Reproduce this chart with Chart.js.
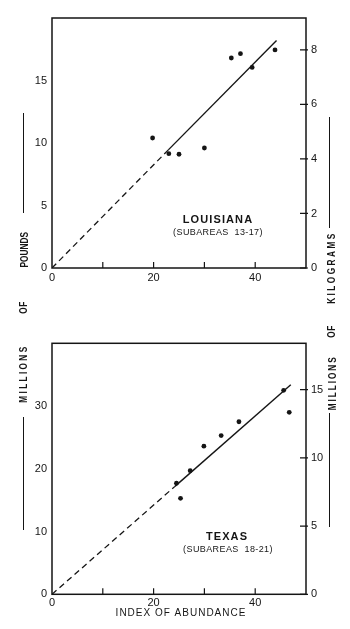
<!DOCTYPE html>
<html>
<head>
<meta charset="utf-8">
<script src="https://cdn.jsdelivr.net/npm/chart.js@4.4.1/dist/chart.umd.min.js"></script>
<style>
  html, body { margin: 0; padding: 0; background: #fff; }
  #page { position: relative; width: 350px; height: 629px; overflow: hidden; }
  canvas { position: absolute; left: 0; }
  .word { position: absolute; font: bold 11.5px "Liberation Sans", Arial, sans-serif; color: #151515; white-space: nowrap; line-height: 1; }
  .rule { position: absolute; width: 1.4px; background: #151515; }
</style>
</head>
<body>
<div id="page">
  <canvas id="louisiana" width="350" height="300" style="top:0"></canvas>
  <canvas id="texas" width="350" height="329" style="top:300px"></canvas>
</div>
<script>
var ink = "#151515";

// Louisiana (subareas 13-17): index of abundance vs catch, millions of pounds
var laIndex = [19.8, 23.0, 25.0, 30.0, 35.3, 37.1, 39.4, 43.9];
var laPounds = [10.4, 9.15, 9.1, 9.6, 16.8, 17.15, 16.05, 17.45];
var laFitX = [0, 22.9, 44.2];
var laFitY = [0, 9.45, 18.2];
var laPoundTicks = [0, 5, 10, 15];
var laKiloTicks = [0, 2, 4, 6, 8];

// Texas (subareas 18-21)
var txIndex = [24.5, 25.3, 27.2, 29.9, 33.3, 36.8, 45.6, 46.7];
var txPounds = [17.7, 15.3, 19.7, 23.6, 25.3, 27.5, 32.5, 29.0];
var txFitX = [0, 24.2, 47.0];
var txFitY = [0, 17.2, 33.4];
var txPoundTicks = [0, 10, 20, 30];
var txKiloTicks = [0, 5, 10, 15];

var indexLabels = [0, 20, 40];
var indexMarks = [10, 20, 30, 40];

function pts(xs, ys) {
  return xs.map(function (x, i) { return { x: x, y: ys[i] }; });
}

function fixTicks(list) {
  return function (scale) {
    scale.ticks = list.map(function (v) { return { value: v }; });
  };
}

// frame, inward tick marks and the state captions
var decor = {
  id: 'decor',
  afterDraw: function (chart, args, opts) {
    var ctx = chart.ctx, a = chart.chartArea, s = chart.scales;
    ctx.save();
    ctx.strokeStyle = ink;
    ctx.lineWidth = 1.5;
    ctx.strokeRect(a.left, a.top, a.right - a.left, a.bottom - a.top);
    ctx.lineWidth = 1.2;
    ctx.beginPath();
    indexMarks.forEach(function (v) {
      var px = s.x.getPixelForValue(v);
      ctx.moveTo(px, a.bottom);
      ctx.lineTo(px, a.bottom - 6);
    });
    opts.kiloTicks.forEach(function (v) {
      var py = s.kg.getPixelForValue(v);
      ctx.moveTo(a.right - 6, py);
      ctx.lineTo(a.right + 2, py);
    });
    ctx.stroke();
    ctx.fillStyle = ink;
    ctx.textAlign = 'center';
    ctx.textBaseline = 'middle';
    opts.captions.forEach(function (c) {
      ctx.font = c.font;
      ctx.letterSpacing = c.spacing + 'px';
      ctx.fillText(c.text, c.x, c.y);
    });
    ctx.restore();
  }
};

function makeChart(id, cfg) {
  var tickFont = { family: '"Liberation Sans", Arial, sans-serif', size: 11 };
  return new Chart(document.getElementById(id), {
    type: 'scatter',
    data: {
      datasets: [
        {
          data: pts(cfg.fitX.slice(0, 2), cfg.fitY.slice(0, 2)),
          showLine: true, pointRadius: 0, borderColor: ink, borderWidth: 1.3,
          borderDash: [6, 4]
        },
        {
          data: pts(cfg.fitX.slice(1), cfg.fitY.slice(1)),
          showLine: true, pointRadius: 0, borderColor: ink, borderWidth: 1.4
        },
        {
          data: pts(cfg.index, cfg.pounds),
          showLine: false, pointRadius: 2.4, backgroundColor: ink, borderWidth: 0
        }
      ]
    },
    options: {
      responsive: false,
      animation: false,
      devicePixelRatio: 1,
      layout: { padding: { top: cfg.top, left: 0, right: 0, bottom: 0 } },
      plugins: {
        legend: { display: false },
        tooltip: { enabled: false },
        decor: { kiloTicks: cfg.kiloTicks, captions: cfg.captions }
      },
      scales: {
        x: {
          type: 'linear', position: 'bottom', min: 0, max: 50,
          grid: { display: false, drawTicks: false }, border: { display: false },
          ticks: { color: ink, font: tickFont, padding: cfg.xPad, maxRotation: 0 },
          afterBuildTicks: fixTicks(indexLabels),
          afterFit: function (sc) { sc.height = cfg.xHeight; }
        },
        y: {
          type: 'linear', position: 'left', min: 0, max: cfg.poundMax,
          grid: { display: false, drawTicks: false }, border: { display: false },
          ticks: { color: ink, font: tickFont, padding: 5 },
          afterBuildTicks: fixTicks(cfg.poundTicks),
          afterFit: function (sc) { sc.width = 52; }
        },
        kg: {
          type: 'linear', position: 'right', min: 0, max: cfg.kiloMax,
          grid: { display: false, drawTicks: false }, border: { display: false },
          ticks: { color: ink, font: tickFont, padding: 5 },
          afterBuildTicks: fixTicks(cfg.kiloTicks),
          afterFit: function (sc) { sc.width = 44; }
        }
      }
    },
    plugins: [decor]
  });
}

var captionFont = 'bold 11px "Liberation Sans", Arial, sans-serif';
var subFont = '9px "Liberation Sans", Arial, sans-serif';

makeChart('louisiana', {
  index: laIndex, pounds: laPounds, fitX: laFitX, fitY: laFitY,
  poundMax: 20, kiloMax: 9.17, poundTicks: laPoundTicks, kiloTicks: laKiloTicks,
  top: 18, xHeight: 32, xPad: 3,
  captions: [
    { text: 'LOUISIANA', x: 218, y: 220, font: captionFont, spacing: 1.1 },
    { text: '(SUBAREAS  13-17)', x: 218, y: 232.5, font: subFont, spacing: 0.4 }
  ]
});

makeChart('texas', {
  index: txIndex, pounds: txPounds, fitX: txFitX, fitY: txFitY,
  poundMax: 40, kiloMax: 18.4, poundTicks: txPoundTicks, kiloTicks: txKiloTicks,
  top: 43.3, xHeight: 34.7, xPad: 2,
  captions: [
    { text: 'TEXAS', x: 227, y: 237, font: captionFont, spacing: 1.1 },
    { text: '(SUBAREAS  18-21)', x: 228, y: 250, font: subFont, spacing: 0.4 },
    { text: 'INDEX OF ABUNDANCE', x: 181, y: 313, font: '10px "Liberation Sans", Arial, sans-serif', spacing: 1 }
  ]
});

// shared axis titles running up both margins: narrow glyphs, spacing stretched to length
var page = document.getElementById('page');
var words = [
  ['POUNDS', 24, 249.5, 35], ['OF', 24, 307.5, 12], ['MILLIONS', 24, 375, 56],
  ['KILOGRAMS', 332, 268.5, 70], ['OF', 332, 331.5, 12], ['MILLIONS', 332, 383.5, 53]
];
var rules = [[23, 113, 213], [23, 417, 530], [329, 117, 228], [329, 413, 527]];
var narrow = 0.72;

words.forEach(function (w) {
  var el = document.createElement('div');
  el.className = 'word';
  el.textContent = w[0];
  page.appendChild(el);
  var n = w[0].length;
  var sp = Math.max(0, (w[3] / narrow - el.offsetWidth) / (n - 1));
  el.style.letterSpacing = sp.toFixed(2) + 'px';
  el.style.paddingLeft = sp.toFixed(2) + 'px';
  el.style.left = (w[1] - el.offsetWidth / 2) + 'px';
  el.style.top = (w[2] - el.offsetHeight / 2) + 'px';
  el.style.transform = 'rotate(-90deg) scaleX(' + narrow + ')';
});

rules.forEach(function (r) {
  var el = document.createElement('div');
  el.className = 'rule';
  el.style.left = r[0] + 'px';
  el.style.top = r[1] + 'px';
  el.style.height = (r[2] - r[1]) + 'px';
  page.appendChild(el);
});
</script>
</body>
</html>
